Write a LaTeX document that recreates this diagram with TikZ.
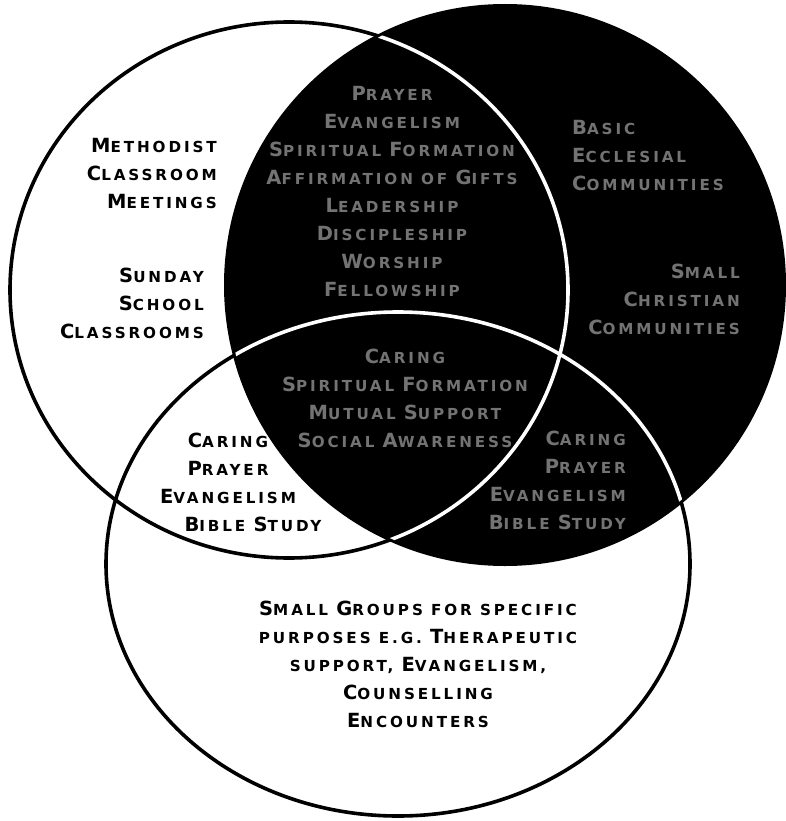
\documentclass[tikz,border=0pt]{standalone}
\usepackage{fontspec}
\usepackage{tikz}
\newfontfamily\capfont{DejaVu Sans}[LetterSpace=19]
\newcommand{\bigc}[1]{{\fontsize{19.5}{20}\selectfont #1}}

\begin{document}
\begin{tikzpicture}[x=1pt,y=-1pt,
 lbl/.style={font=\capfont\bfseries\fontsize{15.2}{28}\selectfont, inner sep=0pt},
 dk/.style={lbl, text=white!45!black},
 rim/.style={line width=3.6pt}]
\useasboundingbox (0,0) rectangle (786,821);

\coordinate (cl) at (289,290);
\coordinate (cr) at (505,285);
\coordinate (cb) at (398,564);

% outlines on white, then the dark circle
\draw[rim] (cl) ellipse [x radius=279, y radius=268];
\draw[rim] (cb) ellipse [x radius=292, y radius=252];
\fill[black] (cr) circle [radius=281];
\begin{scope}
\clip (cr) circle [radius=278];
\draw[rim,white] (cl) ellipse [x radius=279, y radius=268];
\draw[rim,white] (cb) ellipse [x radius=292, y radius=252];
\end{scope}

\node[lbl,align=right,anchor=east] (meth) at (217,173) {\bigc{M}ETHODIST\\ \bigc{C}LASSROOM\\ \bigc{M}EETINGS};
\node[lbl,align=right,anchor=east] (sund) at (204,303) {\bigc{S}UNDAY\\ \bigc{S}CHOOL\\ \bigc{C}LASSROOMS};
\node[lbl,align=center] (carl) at (228,482) {\bigc{C}ARING\\ \bigc{P}RAYER\\ \bigc{E}VANGELISM\\ \hspace*{50pt}\bigc{B}IBLE \bigc{S}TUDY};
\node[lbl,align=center] (smallg) at (418,664) {\bigc{S}MALL \bigc{G}ROUPS FOR SPECIFIC\\ PURPOSES E.G. \bigc{T}HERAPEUTIC\\ SUPPORT, \bigc{E}VANGELISM,\\ \bigc{C}OUNSELLING\\ \bigc{E}NCOUNTERS};

\node[dk,align=center] (common) at (392,191) {\bigc{P}RAYER\\ \bigc{E}VANGELISM\\ \bigc{S}PIRITUAL \bigc{F}ORMATION\\ \bigc{A}FFIRMATION OF \bigc{G}IFTS\\ \bigc{L}EADERSHIP\\ \bigc{D}ISCIPLESHIP\\ \bigc{W}ORSHIP\\ \bigc{F}ELLOWSHIP};
\node[dk,align=left,anchor=west] (basic) at (572,156) {\bigc{B}ASIC\\ \bigc{E}CCLESIAL\\ \bigc{C}OMMUNITIES};
\node[dk,align=right,anchor=east] (scc) at (740,299) {\bigc{S}MALL\\ \bigc{C}HRISTIAN\\ \bigc{C}OMMUNITIES};
\node[dk,align=center] (triple) at (405,398) {\bigc{C}ARING\\ \bigc{S}PIRITUAL \bigc{F}ORMATION\\ \bigc{M}UTUAL \bigc{S}UPPORT\\ \bigc{S}OCIAL \bigc{A}WARENESS};
\node[dk,align=right,anchor=east] (carr) at (626,480) {\bigc{C}ARING\\ \bigc{P}RAYER\\ \bigc{E}VANGELISM\\ \bigc{B}IBLE \bigc{S}TUDY};

\end{tikzpicture}
\end{document}
